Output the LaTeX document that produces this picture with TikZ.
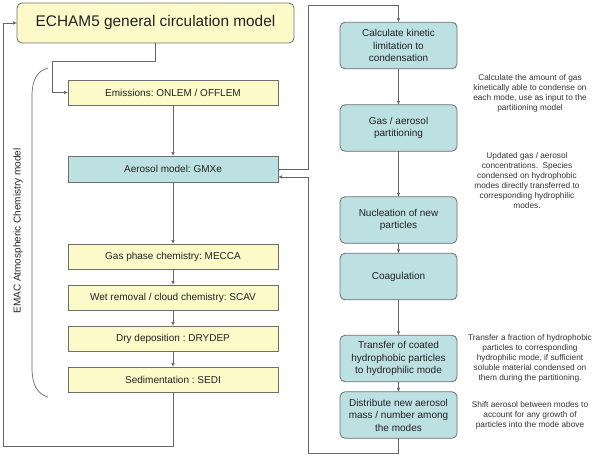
\documentclass[tikz,border=0pt]{standalone}
\usepackage{fontspec}
\setmainfont{Liberation Sans}
\usetikzlibrary{arrows.meta,calc}
\definecolor{yfill}{HTML}{FCFAC9}
\definecolor{tfill}{HTML}{BDE0E3}
\definecolor{bord}{HTML}{6E6E6E}
\definecolor{lncol}{HTML}{666666}
\definecolor{txt}{HTML}{222222}
\definecolor{anntxt}{HTML}{333333}
\frenchspacing
\begin{document}
\begin{tikzpicture}[x=1pt,y=-1pt,
  every node/.style={inner sep=0pt,outer sep=0pt,text=txt},
  ybox/.style={draw=bord,fill=yfill,line width=0.8pt,minimum width=210pt,minimum height=25pt,font=\fontsize{10}{12}\selectfont},
  tbox/.style={draw=bord,fill=tfill,line width=0.8pt,rounded corners=5pt,minimum width=117pt,minimum height=46.5pt,align=center,font=\fontsize{10}{12.5}\selectfont},
  ann/.style={align=center,text=anntxt,font=\fontsize{8.3}{10}\selectfont},
  arr/.style={draw=lncol,line width=0.7pt,-{Latex[length=4pt,width=3.6pt]}},
  ln/.style={draw=lncol,line width=0.7pt}]
\useasboundingbox (0,0) rectangle (596,456);
% left column
\node[draw=bord,fill=yfill,line width=0.8pt,rounded corners=5pt,minimum width=277pt,minimum height=40pt,font=\fontsize{15.4}{18}\selectfont] (echam) at (155.5,23) {ECHAM5 general circulation model};
\node[ybox] (emis) at (173,92.5) {Emissions: ONLEM / OFFLEM};
\node[ybox,fill=tfill,minimum height=26pt] (aero) at (173,169) {Aerosol model: GMXe};
\node[ybox] (gas) at (173,256.5) {Gas phase chemistry: MECCA};
\node[ybox] (wet) at (173,297.5) {Wet removal / cloud chemistry: SCAV};
\node[ybox] (dry) at (173,338.5) {Dry deposition : DRYDEP};
\node[ybox] (sedi) at (173,379.5) {Sedimentation : SEDI};
% right column
\node[tbox] (calc) at (398.5,45.5) {Calculate kinetic\\limitation to\\condensation};
\node[tbox] (part) at (398.5,128) {Gas / aerosol\\partitioning};
\node[tbox] (nucl) at (398.5,220) {Nucleation of new\\particles};
\node[tbox] (coag) at (398.5,276.5) {Coagulation};
\node[tbox] (trans) at (398.5,358.5) {Transfer of coated\\hydrophobic particles\\to hydrophilic mode};
\node[tbox] (distr) at (398.5,415) {Distribute new aerosol\\mass / number among\\the modes};
% annotations
\node[ann] (a1) at (530,93) {Calculate the amount of gas\\kinetically able to condense on\\each mode, use as input to the\\partitioning model};
\node[ann] (a2) at (527,180.5) {Updated gas / aerosol\\concentrations.\ \ Species\\condensed on hydrophobic\\modes directly transferred to\\corresponding hydrophilic\\modes.};
\node[ann] (a3) at (530,358) {Transfer a fraction of hydrophobic\\particles to corresponding\\hydrophilic mode, if sufficient\\soluble material condensed on\\them during the partitioning.};
\node[ann] (a4) at (530,415) {Shift aerosol between modes to\\account for any growth of\\particles into the mode above};
% brace and label
\draw[ln] (48,68) .. controls (37,71) and (32,80) .. (32,96) -- (32,368) .. controls (32,384) and (37,394) .. (48,397);
\node[rotate=90,font=\fontsize{10}{12}\selectfont] (emac) at (18,231) {EMAC Atmospheric Chemistry model};
% connectors
\coordinate (c1) at (52,61);
\coordinate (c2) at (3,446);
\coordinate (c3) at (308,5);
\coordinate (c4) at (308,453);
\draw[arr] (echam.south) |- (c1) |- (emis.west);
\draw[arr] (emis) -- (aero);
\draw[arr] (aero) -- (gas);
\draw[arr] (gas) -- (wet);
\draw[arr] (wet) -- (dry);
\draw[arr] (dry) -- (sedi);
\draw[arr] (sedi.south) |- (c2) |- (echam.west);
\draw[arr] (aero.east) -| (c3) -| (calc.north);
\draw[arr] (distr.south) |- (c4) |- ([yshift=-8pt]aero.east);
\draw[arr] (calc) -- (part);
\draw[arr] (part) -- (nucl);
\draw[arr] (nucl) -- (coag);
\draw[arr] (coag) -- (trans);
\draw[arr] (trans) -- (distr);
\end{tikzpicture}
\end{document}
